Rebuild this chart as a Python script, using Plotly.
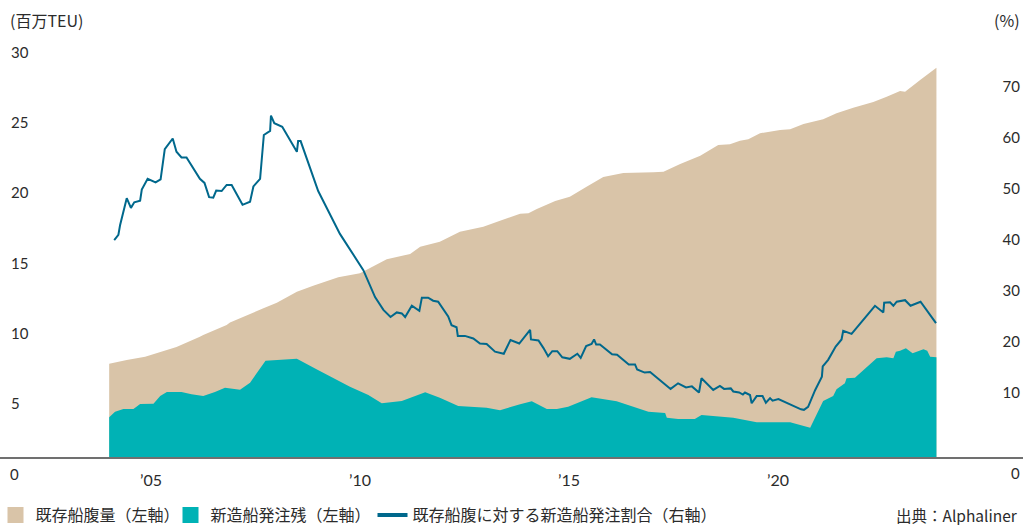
import plotly.graph_objects as go

# Existing fleet capacity (million TEU), left axis
fleet_year = [2004.00, 2004.42, 2004.86, 2005.61, 2006.17, 2006.25, 2006.81, 2006.89,
              2007.69, 2008.01, 2008.49, 2008.88, 2009.48, 2010.00, 2010.64, 2011.20,
              2011.44, 2011.91, 2012.39, 2012.95, 2013.35, 2013.83, 2014.03, 2014.23,
              2014.67, 2015.02, 2015.42, 2015.82, 2016.30, 2017.02, 2017.26, 2017.66,
              2018.14, 2018.57, 2018.85, 2019.09, 2019.29, 2019.57, 2020.05, 2020.29,
              2020.61, 2021.08, 2021.40, 2021.80, 2022.28, 2022.60, 2022.92, 2023.04,
              2023.40, 2023.79]
fleet_teu = [6.64, 6.91, 7.14, 7.84, 8.57, 8.69, 9.40, 9.57,
             10.59, 10.99, 11.77, 12.20, 12.80, 13.08, 14.08, 14.46,
             14.98, 15.33, 16.05, 16.40, 16.83, 17.33, 17.36, 17.66,
             18.23, 18.54, 19.25, 19.94, 20.23, 20.28, 20.32, 20.87,
             21.46, 22.22, 22.27, 22.53, 22.63, 23.06, 23.29, 23.34,
             23.72, 24.05, 24.48, 24.88, 25.28, 25.66, 26.07, 26.02,
             26.85, 27.73]

# Newbuilding orderbook (million TEU), left axis
order_year = [2004.00, 2004.14, 2004.34, 2004.58, 2004.74, 2005.06, 2005.22, 2005.38,
              2005.73, 2005.97, 2006.25, 2006.53, 2006.77, 2007.13, 2007.37, 2007.74,
              2008.49, 2008.96, 2009.76, 2010.20, 2010.52, 2011.00, 2011.56, 2011.91,
              2012.35, 2013.03, 2013.35, 2013.83, 2014.11, 2014.47, 2014.71, 2014.98,
              2015.54, 2016.14, 2016.90, 2017.30, 2017.34, 2017.61, 2018.01, 2018.17,
              2018.93, 2019.49, 2020.29, 2020.77, 2021.08, 2021.32, 2021.40, 2021.60,
              2021.64, 2021.84, 2022.36, 2022.60, 2022.76, 2022.82, 2022.92, 2023.06,
              2023.22, 2023.48, 2023.57, 2023.64, 2023.79]
order_teu = [2.83, 3.23, 3.42, 3.42, 3.77, 3.80, 4.34, 4.63,
             4.63, 4.47, 4.34, 4.63, 4.94, 4.79, 5.29, 6.86,
             7.00, 6.25, 5.01, 4.42, 3.82, 3.99, 4.61, 4.22,
             3.63, 3.51, 3.33, 3.76, 3.97, 3.42, 3.42, 3.58,
             4.25, 3.97, 3.23, 3.13, 2.80, 2.71, 2.71, 2.99,
             2.80, 2.47, 2.47, 2.09, 3.99, 4.34, 4.82, 5.25,
             5.61, 5.65, 7.03, 7.10, 7.03, 7.50, 7.57, 7.74,
             7.39, 7.67, 7.57, 7.14, 7.10]

# Orderbook-to-fleet ratio (%), right axis
ratio_year = [2004.12, 2004.22, 2004.26, 2004.42, 2004.52, 2004.60, 2004.74, 2004.78,
              2004.92, 2005.11, 2005.23, 2005.33, 2005.52, 2005.61, 2005.73, 2005.85,
              2006.17, 2006.28, 2006.39, 2006.49, 2006.56, 2006.69, 2006.81, 2006.93,
              2007.19, 2007.37, 2007.45, 2007.61, 2007.70, 2007.85, 2007.87, 2007.95,
              2008.14, 2008.49, 2008.52, 2008.58, 2009.00, 2009.28, 2009.52, 2010.08,
              2010.30, 2010.36, 2010.56, 2010.73, 2010.88, 2011.00, 2011.08, 2011.24,
              2011.42, 2011.48, 2011.63, 2011.75, 2011.87, 2012.11, 2012.19, 2012.31,
              2012.34, 2012.51, 2012.71, 2012.87, 2013.03, 2013.23, 2013.44, 2013.60,
              2013.81, 2014.07, 2014.09, 2014.27, 2014.39, 2014.50, 2014.60, 2014.72,
              2014.84, 2015.02, 2015.20, 2015.28, 2015.41, 2015.54, 2015.60, 2015.65,
              2015.74, 2016.03, 2016.15, 2016.43, 2016.58, 2016.63, 2016.81, 2016.94,
              2017.43, 2017.61, 2017.80, 2017.94, 2018.11, 2018.17, 2018.45, 2018.61,
              2018.71, 2018.87, 2018.93, 2019.07, 2019.16, 2019.21, 2019.33, 2019.37,
              2019.49, 2019.63, 2019.71, 2019.81, 2019.87, 2020.01, 2020.55, 2020.62,
              2020.72, 2020.89, 2021.05, 2021.07, 2021.20, 2021.38, 2021.52, 2021.56,
              2021.76, 2022.32, 2022.52, 2022.54, 2022.68, 2022.76, 2022.84, 2023.04,
              2023.17, 2023.41, 2023.78]
ratio_pct = [40.0, 41.0, 42.9, 48.2, 46.3, 47.4, 47.7, 49.9,
             52.0, 51.3, 51.9, 57.8, 59.9, 57.3, 56.2, 56.2,
             52.0, 51.2, 48.4, 48.3, 49.7, 49.6, 50.8, 50.8,
             46.9, 47.5, 50.5, 52.0, 60.6, 61.4, 64.4, 62.9,
             62.2, 57.3, 59.4, 59.4, 49.6, 44.9, 41.2, 34.1,
             30.2, 28.8, 26.3, 24.9, 25.8, 25.6, 24.9, 27.1,
             26.1, 28.7, 28.7, 28.1, 27.9, 25.0, 23.3, 22.9,
             21.2, 21.2, 20.7, 19.7, 19.6, 18.1, 17.7, 20.4,
             19.7, 22.4, 20.5, 20.3, 18.8, 17.2, 18.2, 18.2,
             17.0, 16.7, 17.7, 16.9, 19.2, 19.6, 20.5, 19.5,
             19.5, 17.6, 17.5, 15.6, 15.6, 14.6, 14.0, 14.1,
             10.8, 11.9, 11.1, 11.3, 10.1, 12.9, 10.6, 11.4,
             10.8, 10.9, 10.3, 10.1, 9.7, 10.1, 9.6, 8.0,
             9.4, 9.4, 8.1, 9.0, 8.5, 8.8, 6.8, 6.7,
             7.3, 10.6, 13.2, 15.2, 16.5, 19.1, 20.5, 22.2,
             21.6, 27.1, 25.8, 27.7, 27.8, 27.1, 27.9, 28.2,
             27.1, 27.9, 23.7]

x_tick_vals = [2005, 2010, 2015, 2020]
x_tick_text = ["’05", "’10", "’15", "’20"]
left_tick_vals = [0, 5, 10, 15, 20, 25, 30]
right_tick_vals = [10, 20, 30, 40, 50, 60, 70]

name_fleet = "既存船腹量（左軸）"
name_order = "新造船発注残（左軸）"
name_ratio = "既存船腹に対する新造船発注割合（右軸）"

BEIGE = "#D9C4A8"
TEAL = "#00B2B5"
NAVY = "#00688C"
TEXT = "#2b2b2b"
CJK = "Noto Sans CJK JP"
NUM = "Lato, Noto Sans CJK JP"

W = 1023.0
fig = go.Figure()

fig.add_trace(go.Scatter(x=fleet_year, y=fleet_teu, mode="none", fill="tozeroy",
                         fillcolor=BEIGE, showlegend=False, name=name_fleet))
fig.add_trace(go.Scatter(x=order_year, y=order_teu, mode="none", fill="tozeroy",
                         fillcolor=TEAL, showlegend=False, name=name_order))
fig.add_trace(go.Scatter(x=ratio_year, y=ratio_pct, mode="lines", yaxis="y2",
                         line=dict(color=NAVY, width=2), showlegend=False,
                         name=name_ratio))

# legend keys, one legend box each so they can be spaced freely
fig.add_trace(go.Scatter(x=[None], y=[None], mode="markers", name=name_fleet,
                         legend="legend",
                         marker=dict(symbol="square", size=16, color=BEIGE)))
fig.add_trace(go.Scatter(x=[None], y=[None], mode="markers", name=name_order,
                         legend="legend2",
                         marker=dict(symbol="square", size=16, color=TEAL)))
fig.add_trace(go.Scatter(x=[None], y=[None], mode="lines", name=name_ratio,
                         legend="legend3", line=dict(color=NAVY, width=4)))

legend_common = dict(orientation="h", xanchor="left", y=-0.136, yanchor="middle",
                     font=dict(family=CJK, size=16, color=TEXT),
                     bgcolor="rgba(0,0,0,0)", itemclick=False, itemdoubleclick=False)

fig.update_layout(
    width=1023, height=525,
    margin=dict(l=0, r=0, t=30, b=68, autoexpand=False),
    paper_bgcolor="white", plot_bgcolor="white",
    font=dict(family=NUM, size=15, color=TEXT),
    xaxis=dict(range=[2001.388, 2025.861], tickvals=x_tick_vals, ticktext=x_tick_text,
               showgrid=False, zeroline=False, showline=True, linecolor="#707070",
               linewidth=1.5, ticks="", ticklabelstandoff=8,
               tickfont=dict(family=NUM, size=16, color=TEXT)),
    yaxis=dict(range=[0, 30.41], tickvals=left_tick_vals, showgrid=False,
               zeroline=False, showline=False, ticks="", ticklabelposition="inside",
               ticklabelstandoff=8, ticklabelshift=17,
               tickfont=dict(family=NUM, size=15, color=TEXT)),
    yaxis2=dict(range=[-2.55, 81.18], tickvals=right_tick_vals, overlaying="y",
                side="right", showgrid=False, zeroline=False, showline=False,
                ticks="", ticklabelposition="inside", ticklabelstandoff=0,
                tickfont=dict(family=NUM, size=15, color=TEXT)),
    legend=dict(x=-4.5 / W, **legend_common),
    legend2=dict(x=170.5 / W, **legend_common),
    legend3=dict(x=372.5 / W, **legend_common),
    showlegend=True,
)

# axis unit captions and the zero labels under the baseline
fig.add_annotation(text="(百万TEU)", xref="paper", yref="paper", x=0, y=1.0234,
                   xanchor="left", yanchor="middle", xshift=8, showarrow=False,
                   font=dict(family=CJK, size=16, color=TEXT))
fig.add_annotation(text="(%)", xref="paper", yref="paper", x=1, y=1.0234,
                   xanchor="right", yanchor="middle", xshift=-1, showarrow=False,
                   font=dict(family=CJK, size=16, color=TEXT))
fig.add_annotation(text="0", xref="paper", yref="paper", x=0, y=-0.0398,
                   xanchor="left", yanchor="middle", xshift=8, showarrow=False,
                   font=dict(family=NUM, size=15, color=TEXT))
fig.add_annotation(text="0", xref="paper", yref="paper", x=1, y=-0.0375,
                   xanchor="right", yanchor="middle", xshift=-1, showarrow=False,
                   font=dict(family=NUM, size=15, color=TEXT))
fig.add_annotation(text="出典：Alphaliner", xref="paper", yref="paper", x=1, y=-0.136,
                   xanchor="right", yanchor="middle", xshift=-3, showarrow=False,
                   font=dict(family=CJK, size=15.5, color=TEXT))

fig.write_html("out.html")
